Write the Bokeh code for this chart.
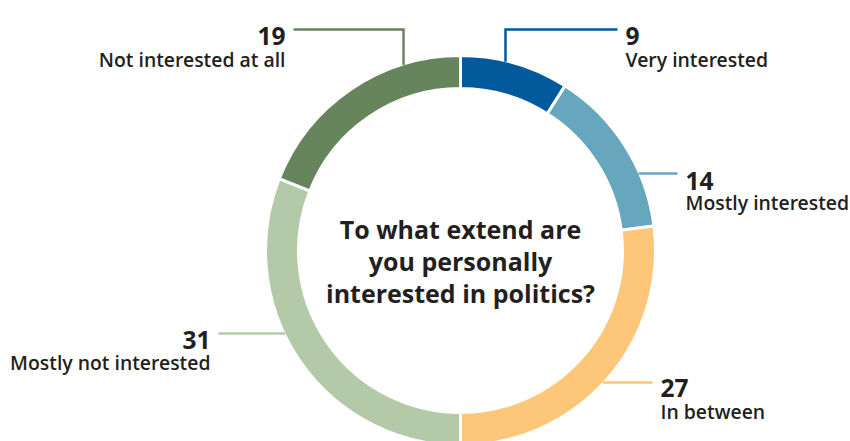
import math
from bokeh.plotting import figure
from bokeh.models import Range1d, ColumnDataSource
from bokeh.embed import file_html
from bokeh.resources import INLINE
from bokeh.core.properties import value

# ---------------- data ----------------
categories = ["Very interested", "Mostly interested", "In between",
              "Mostly not interested", "Not interested at all"]
shares = [9, 14, 27, 31, 19]
colors = ["#02599C", "#67A7BD", "#FDC679", "#B4C9A7", "#67855D"]
question_lines = ["To what extend are", "you personally", "interested in politics?"]

# ---------------- layout (image pixel coords, y downward) ----------------
W, H = 850, 441
CX, CY = 460, 250
R_OUT, R_IN = 195, 162
TEXT_COLOR = "#231F20"
FONT = "Open Sans"
LABEL_FONT = "Open Sans SemiBold, Open Sans"

# leader-line layout per category: free end points, how it meets the ring,
# text x, alignment, number baseline, label baseline
layout = [
    dict(pts=[(617, 29), (505, 29)], ring="v", tx=625, align="left", nb=35, lb=59),
    dict(pts=[(677, 173)], ring="h", tx=685, align="left", nb=180, lb=202),
    dict(pts=[(652, 382)], ring="h", tx=660, align="left", nb=387, lb=411),
    dict(pts=[(218, 333)], ring="h", tx=210, align="right", nb=339, lb=362),
    dict(pts=[(293, 29), (403, 29)], ring="v", tx=285, align="right", nb=35, lb=59),
]


def fy(y):
    return H - y


p = figure(width=W, height=H, x_range=Range1d(0, W), y_range=Range1d(0, H),
           output_backend="svg", toolbar_location=None, min_border=0)
p.axis.visible = False
p.grid.visible = False
p.outline_line_color = None
p.background_fill_color = "white"
p.border_fill_color = "white"

# ---------------- donut ----------------
total = sum(shares)
starts, ends = [], []
cum = 0
for s in shares:
    starts.append(math.pi / 2 - 2 * math.pi * cum / total)
    cum += s
    ends.append(math.pi / 2 - 2 * math.pi * cum / total)

src = ColumnDataSource(dict(start=starts, end=ends, color=colors, cat=categories))
p.annular_wedge(x=CX, y=fy(CY), inner_radius=R_IN, outer_radius=R_OUT,
                start_angle="start", end_angle="end", direction="clock",
                fill_color="color", line_color="white", line_width=3, source=src)

# ---------------- leader lines & labels ----------------
for cat, val, col, lay in zip(categories, shares, colors, layout):
    pts = list(lay["pts"])
    lx, ly = pts[-1]
    r = R_OUT - 1
    if lay["ring"] == "v":
        d = math.sqrt(r * r - (lx - CX) ** 2)
        ey = CY - d if ly < CY else CY + d
        pts.append((lx, ey))
    else:
        d = math.sqrt(r * r - (ly - CY) ** 2)
        ex = CX + d if lx > CX else CX - d
        pts.append((ex, ly))
    p.line([q[0] for q in pts], [fy(q[1]) for q in pts], line_color=col,
           line_width=2.5, line_join="miter")
    p.text(x=[lay["tx"]], y=[fy(lay["nb"])], text=[str(val)],
           text_font=value(FONT), text_font_style="bold", text_font_size="24.5px",
           text_color=TEXT_COLOR, text_align=lay["align"], text_baseline="alphabetic")
    p.text(x=[lay["tx"]], y=[fy(lay["lb"])], text=[cat],
           text_font=value(LABEL_FONT), text_font_size="19.4px",
           text_color=TEXT_COLOR, text_align=lay["align"], text_baseline="alphabetic")

# ---------------- centre question ----------------
baselines = [228, 260, 292]
p.text(x=[CX] * 3, y=[fy(b) for b in baselines], text=question_lines,
       text_font=value(FONT), text_font_style="bold", text_font_size="25px",
       text_color=TEXT_COLOR, text_align="center", text_baseline="alphabetic")

open("out.html", "w").write(file_html(p, INLINE))
